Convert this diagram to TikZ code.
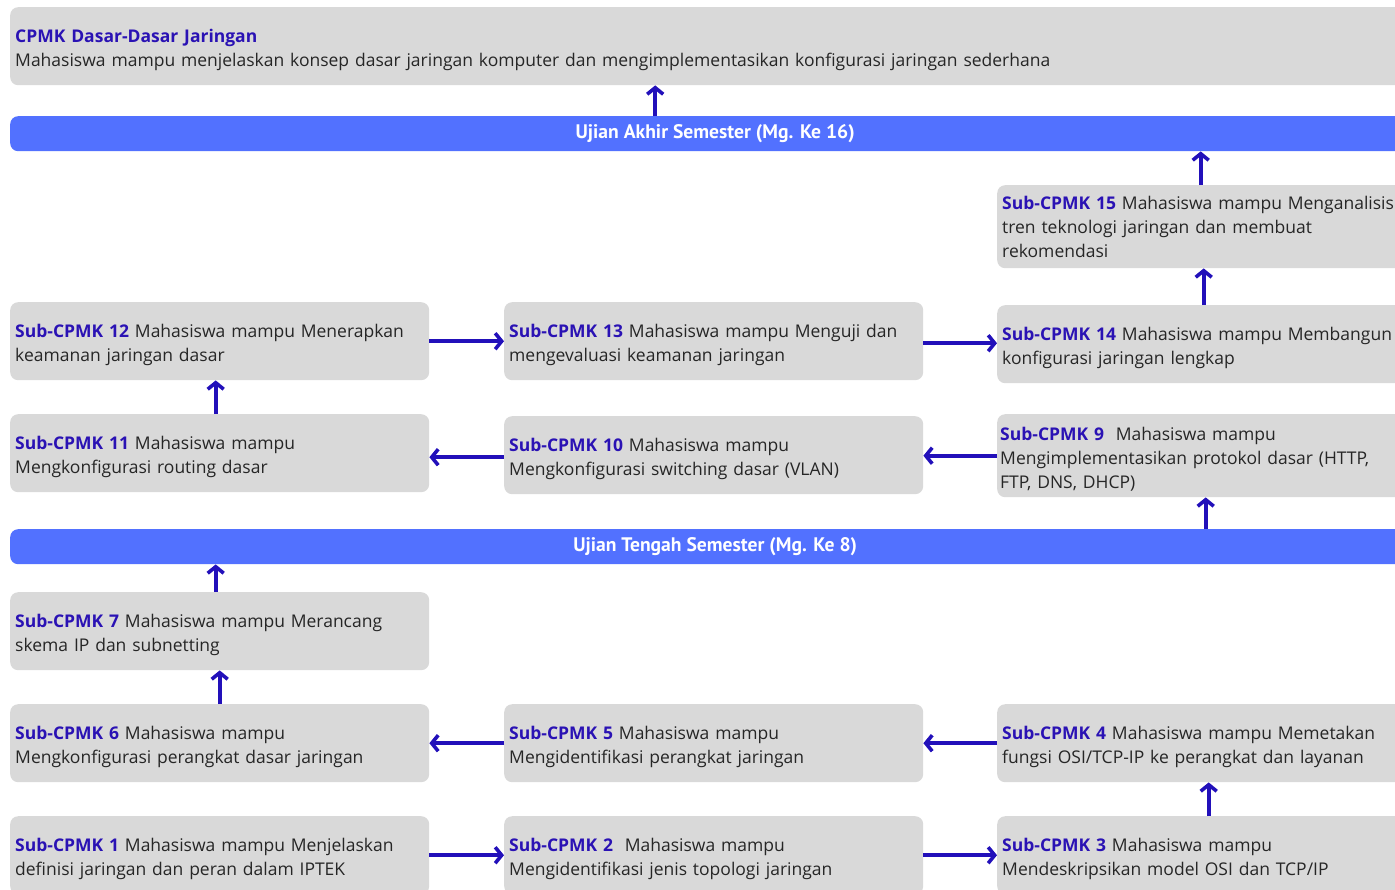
\documentclass[tikz,border=0pt]{standalone}
\usepackage{fontspec}
\setmainfont{Open Sans}
\newfontfamily\barfont{PT Sans}
\usetikzlibrary{arrows.meta}
\definecolor{boxgray}{HTML}{D9D9D9}
\definecolor{barblue}{HTML}{5271FF}
\definecolor{ttlblue}{HTML}{2A12B4}
\definecolor{arrblue}{HTML}{2210BA}
\newcommand{\ttl}[1]{\textcolor{ttlblue}{\textbf{#1}}}
\tikzset{
  box/.style={fill=boxgray, rounded corners=8pt, anchor=north west, align=left,
    inner xsep=5pt, inner ysep=0pt, text width=409pt, minimum height=78pt,
    font=\fontsize{17.5pt}{24pt}\selectfont, text=black!85,
    execute at begin node={\rule{0pt}{20pt}}},
  rbox/.style={box, text width=413pt},
  semester/.style={fill=barblue, rounded corners=8pt, anchor=north west, minimum width=1410pt,
    minimum height=35pt, inner sep=0pt, text=white, font=\barfont\bfseries\fontsize{19.6pt}{21pt}\selectfont},
  arr/.style={draw=arrblue, line width=3.6pt, -{Straight Barb[length=6.5pt,width=16pt]}},
}
\begin{document}
\begin{tikzpicture}[x=1pt,y=-1pt]
\useasboundingbox (0,0) rectangle (1395,889);
\clip (0,0) rectangle (1395,889);
% top
\node[box, text width=1400pt] (cpmk) at (10,7) {\ttl{CPMK Dasar-Dasar Jaringan}\\Mahasiswa mampu menjelaskan konsep dasar jaringan komputer dan mengimplementasikan konfigurasi jaringan sederhana};
\node[semester] (uas) at (10,116) {Ujian Akhir Semester (Mg. Ke 16)};
\node[rbox, minimum height=83pt] (s15) at (997,185) {\ttl{Sub-CPMK 15} Mahasiswa mampu Menganalisis\\tren teknologi jaringan dan membuat\\rekomendasi\rule[-6pt]{0pt}{6pt}};
\node[rbox] (s14) at (997,305) {\ttl{Sub-CPMK 14} Mahasiswa mampu Membangun\\konfigurasi jaringan lengkap};
\node[box] (s12) at (10,302) {\ttl{Sub-CPMK 12} Mahasiswa mampu Menerapkan\\keamanan jaringan dasar};
\node[box] (s13) at (504,302) {\ttl{Sub-CPMK 13} Mahasiswa mampu Menguji dan\\mengevaluasi keamanan jaringan};
\node[box] (s11) at (10,414) {\ttl{Sub-CPMK 11} Mahasiswa mampu\\Mengkonfigurasi routing dasar};
\node[box] (s10) at (504,416) {\ttl{Sub-CPMK 10} Mahasiswa mampu\\Mengkonfigurasi switching dasar (VLAN)};
\node[rbox, minimum height=83pt, inner xsep=3pt, text width=417pt] (s9) at (997,414) {\ttl{Sub-CPMK 9}\ \ Mahasiswa mampu\\Mengimplementasikan protokol dasar (HTTP,\\FTP, DNS, DHCP)};
\node[semester] (uts) at (10,529) {Ujian Tengah Semester (Mg. Ke 8)};
\node[box] (s7) at (10,592) {\ttl{Sub-CPMK 7} Mahasiswa mampu Merancang\\skema IP dan subnetting};
\node[box] (s6) at (10,704) {\ttl{Sub-CPMK 6} Mahasiswa mampu\\Mengkonfigurasi perangkat dasar jaringan};
\node[box] (s5) at (504,704) {\ttl{Sub-CPMK 5} Mahasiswa mampu\\Mengidentifikasi perangkat jaringan};
\node[rbox] (s4) at (997,704) {\ttl{Sub-CPMK 4} Mahasiswa mampu Memetakan\\fungsi OSI/TCP-IP ke perangkat dan layanan};
\node[box] (s1) at (10,816) {\ttl{Sub-CPMK 1} Mahasiswa mampu Menjelaskan\\definisi jaringan dan peran dalam IPTEK};
\node[box] (s2) at (504,816) {\ttl{Sub-CPMK 2}\ \ Mahasiswa mampu\\Mengidentifikasi jenis topologi jaringan};
\node[rbox] (s3) at (997,816) {\ttl{Sub-CPMK 3} Mahasiswa mampu\\Mendeskripsikan model OSI dan TCP/IP};
% arrows
\draw[arr] (s1.east) -- (s2.west);
\draw[arr] (s2.east) -- (s3.west);
\draw[arr] (s3.north) -- (s4.south);
\draw[arr] (s4.west) -- (s5.east);
\draw[arr] (s5.west) -- (s6.east);
\draw[arr] (s6.north) -- (s7.south);
\draw[arr] ([xshift=-4pt]s7.north) -- ([xshift=-4pt]s7.north |- uts.south);
\draw[arr] ([xshift=-3pt]s9.south |- uts.north) -- ([xshift=-3pt]s9.south);
\draw[arr] (s9.west) -- (s9.west -| s10.east);
\draw[arr] ([yshift=-2pt]s10.west) -- ([yshift=-2pt]s10.west -| s11.east);
\draw[arr] (s12.east) -- (s13.west);
\draw[arr] ([yshift=-2pt]s13.east) -- ([yshift=-2pt]s13.east -| s14.west);
\draw[arr] ([xshift=-4pt]s11.north) -- ([xshift=-4pt]s12.south);
\draw[arr] ([xshift=-5pt]s14.north) -- ([xshift=-5pt]s15.south);
\draw[arr] ([xshift=-8pt]s15.north) -- ([xshift=-8pt]s15.north |- uas.south);
\draw[arr] ([xshift=-60pt]uas.north) -- ([xshift=-60pt]cpmk.south);
\end{tikzpicture}
\end{document}
